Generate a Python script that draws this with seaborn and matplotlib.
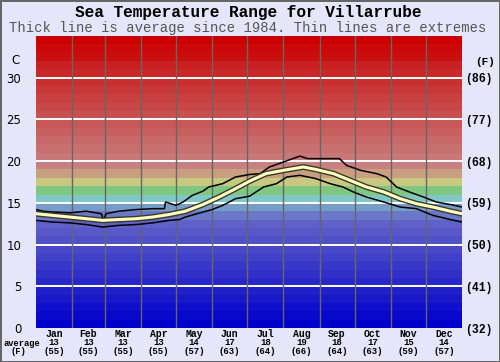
import matplotlib
matplotlib.use("Agg")
import matplotlib.pyplot as plt
import matplotlib.transforms as mtransforms
import pandas as pd
import seaborn as sns

# values (x = day of year, y = deg C)
avg_days = [0, 14, 29, 43, 57, 71, 86, 100, 114, 128, 143, 157, 171, 183,
            197, 212, 229, 240, 255, 269, 283, 298, 312, 326, 340, 355, 365]
avg_temp = [13.7, 13.5, 13.3, 13.1, 12.9, 13.0, 13.1, 13.3, 13.6, 14.0, 14.8,
            15.7, 16.7, 17.6, 18.5, 18.9, 19.3, 19.0, 18.5, 17.7, 16.9, 16.3,
            15.5, 14.9, 14.5, 14.0, 13.7]

max_days = [0, 6, 14, 29, 43, 56, 58, 60, 71, 86, 100, 110, 111, 120, 126, 134,
            143, 148, 160, 171, 183, 192, 200, 212, 218, 226, 233, 246, 260,
            266, 278, 292, 300, 309, 320, 332, 343, 355, 365]
max_temp = [14.2, 14.0, 13.9, 13.8, 14.0, 13.7, 12.9, 13.7, 14.0, 14.2, 14.3,
            14.3, 15.1, 14.7, 15.1, 15.9, 16.4, 16.9, 17.3, 18.1, 18.4, 18.5,
            19.3, 19.9, 20.2, 20.6, 20.3, 20.3, 20.3, 19.5, 18.9, 18.5, 18.1,
            16.9, 16.3, 15.7, 15.1, 14.8, 14.5]

min_days = [0, 14, 29, 43, 57, 71, 86, 100, 114, 123, 128, 143, 151, 160, 171,
            183, 195, 206, 215, 226, 240, 252, 263, 272, 283, 298, 312, 326,
            340, 355, 365]
min_temp = [12.9, 12.7, 12.6, 12.4, 12.1, 12.3, 12.4, 12.6, 12.9, 13.0, 13.3,
            13.9, 14.2, 14.7, 15.5, 15.8, 16.9, 17.3, 18.1, 18.3, 17.9, 17.3,
            16.9, 16.3, 15.7, 15.1, 14.5, 14.3, 13.5, 13.0, 12.7]

months = ["Jan", "Feb", "Mar", "Apr", "May", "Jun",
          "Jul", "Aug", "Sep", "Oct", "Nov", "Dec"]
month_starts = [0, 31, 59, 90, 120, 151, 181, 212, 243, 273, 304, 334, 365]
month_avg_c = [13, 13, 13, 13, 14, 17, 18, 19, 18, 17, 15, 14]
month_avg_f = [55, 55, 55, 55, 57, 63, 64, 66, 64, 63, 59, 57]

c_ticks = [0, 5, 10, 15, 20, 25, 30]
f_labels = ["(32)", "(41)", "(50)", "(59)", "(68)", "(77)", "(86)"]

# one colour per 1 degree band, 0..35 C
band_colours = [
    "#0000cc", "#0808cc", "#1010cc", "#1818c8", "#2020c8",
    "#2828c8", "#3030c8", "#3838c8", "#4040c8", "#4848c8",
    "#5050c8", "#5858c8", "#6060c8", "#6a78c8", "#789cc8",
    "#80c8c8", "#80c880", "#c8c880", "#c8a080", "#c88080",
    "#c87878", "#c87070", "#c86868", "#c86060", "#c85858",
    "#c85050", "#c84848", "#c84040", "#c83838", "#c83030",
    "#c82828", "#c82020", "#c81010", "#cc0808", "#cc0000",
]

BG = "#e6e6fa"
MONO = "Liberation Mono"

fig = plt.figure(figsize=(5, 3.62), dpi=100, facecolor=BG,
                 edgecolor="#666666", linewidth=1)
ax = fig.add_axes([0.072, 0.0939, 0.852, 0.8067])

for t, col in enumerate(band_colours):
    ax.axhspan(t, t + 1, color=col, lw=0, zorder=0)
for t in c_ticks[1:]:
    ax.axhline(t, color="white", lw=1.4, zorder=1)
for d in month_starts[1:-1]:
    ax.axvline(d, color="#666666", lw=1, zorder=1)

df_max = pd.DataFrame({"day": max_days, "temp": max_temp})
df_min = pd.DataFrame({"day": min_days, "temp": min_temp})
df_avg = pd.DataFrame({"day": avg_days, "temp": avg_temp})

sns.lineplot(data=df_max, x="day", y="temp", ax=ax, color="black", lw=1.1,
             estimator=None, zorder=3)
sns.lineplot(data=df_min, x="day", y="temp", ax=ax, color="black", lw=1.1,
             estimator=None, zorder=3)
sns.lineplot(data=df_avg, x="day", y="temp", ax=ax, color="#3a3a2a", lw=4.2,
             estimator=None, zorder=4)
sns.lineplot(data=df_avg, x="day", y="temp", ax=ax, color="#ffffc0", lw=2.2,
             estimator=None, zorder=5)

ax.set_xlim(0, 365)
ax.set_ylim(0, 35)
ax.set_xlabel("")
ax.set_ylabel("")
for s in ax.spines.values():
    s.set_visible(False)

ax.set_xticks([])
ax.set_yticks(c_ticks)
ax.set_yticklabels([str(t) for t in c_ticks], fontsize=8.5,
                   family="DejaVu Sans")
ax.tick_params(axis="y", length=0, pad=10.5)

ax2 = ax.twinx()
ax2.set_ylim(0, 35)
ax2.set_yticks(c_ticks)
ax2.set_yticklabels(f_labels, fontsize=8.3, family=MONO, weight="bold")
ax2.tick_params(axis="y", length=0, pad=2.5)
for s in ax2.spines.values():
    s.set_visible(False)

# bottom month table
trans = mtransforms.blended_transform_factory(ax.transData, ax.transAxes)
for i, m in enumerate(months):
    mid = (month_starts[i] + month_starts[i + 1]) / 2
    ax.text(mid, -0.02, m, transform=trans, ha="center", va="center",
            fontsize=7, family=MONO, weight="bold")
    ax.text(mid, -0.05, str(month_avg_c[i]), transform=trans, ha="center",
            va="center", fontsize=6.5, family=MONO, weight="bold")
    ax.text(mid, -0.082, f"({month_avg_f[i]})", transform=trans, ha="center",
            va="center", fontsize=6.5, family=MONO, weight="bold")

fig.text(22 / 500, 1 - 343 / 362, "average", ha="center", va="center",
         fontsize=6.3, family=MONO, weight="bold")
fig.text(18 / 500, 1 - 352 / 362, "(F)", ha="center", va="center",
         fontsize=6.3, family=MONO, weight="bold")

fig.text(16 / 500, 1 - 61 / 362, "C", ha="center", va="center",
         fontsize=8.5, family="DejaVu Sans")
fig.text(485 / 500, 1 - 62 / 362, "(F)", ha="center", va="center",
         fontsize=8, family=MONO, weight="bold")

fig.text(0.496, 1 - 13 / 362, "Sea Temperature Range for Villarrube",
         ha="center", va="center", fontsize=11.6, family=MONO, weight="bold")
fig.text(0.496, 1 - 28 / 362,
         "Thick line is average since 1984. Thin lines are extremes",
         ha="center", va="center", fontsize=10, family=MONO, color="#555555")

fig.savefig("out.png", dpi=100, facecolor=BG, edgecolor="#666666")
